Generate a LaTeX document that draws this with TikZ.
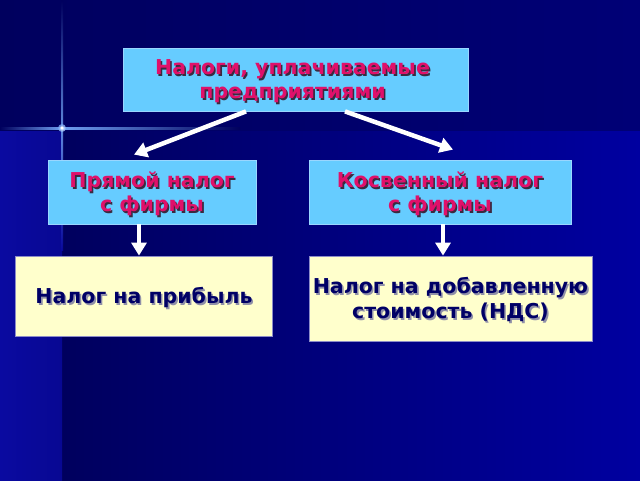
\documentclass[tikz,border=0pt]{standalone}
\usepackage{fontspec}
\setmainfont{DejaVu Sans}
\usetikzlibrary{arrows.meta,calc}
\definecolor{bgdark}{HTML}{00005E}
\definecolor{bgmid}{HTML}{000070}
\definecolor{bglight}{HTML}{0000A0}
\definecolor{bgstrip}{HTML}{0A0AA0}
\definecolor{boxblue}{HTML}{66CCFF}
\definecolor{boxblueline}{HTML}{9AD6FF}
\definecolor{boxyellow}{HTML}{FFFFCC}
\definecolor{boxyline}{HTML}{8C8CC8}
\definecolor{txtred}{HTML}{E0106A}
\definecolor{txtnavy}{HTML}{000066}
\definecolor{shred}{HTML}{3A2A40}
\definecolor{shnavy}{HTML}{9090A8}
\definecolor{flare}{HTML}{6F9FF0}
\newcommand{\shline}[3]{\leavevmode{\color{#2}\rlap{\hspace*{1.6pt}\raisebox{-1.6pt}{#1}}}{\color{#3}#1}}
\newcommand{\redline}[1]{\shline{#1}{shred}{txtred}}
\newcommand{\navyline}[1]{\shline{#1}{shnavy}{txtnavy}}
\tikzset{
  bluebox/.style={draw=boxblueline, line width=0.8pt, fill=boxblue, inner sep=0pt},
  yellowbox/.style={draw=boxyline, line width=0.8pt, fill=boxyellow, inner sep=0pt},
  redtxt/.style={font=\bfseries\fontsize{20.5}{24}\selectfont, align=center},
  navytxt/.style={font=\bfseries\fontsize{20.5}{25}\selectfont, align=center},
  warrow/.style={draw=white, line width=4.5pt, -{Triangle[width=15pt,length=13pt]}}
}
\begin{document}
\begin{tikzpicture}[x=1pt,y=-1pt]
% background
\useasboundingbox (0,0) rectangle (640,480);
\fill[bglight] (0,0) rectangle (640,480);
\shade[left color=bgdark, right color=bglight] (62,130) rectangle (640,480);
\shade[left color=bgstrip, right color=bgstrip!80!bgdark] (0,130) rectangle (62,480);
\shade[left color=bgdark, right color=bgdark!85!blue] (0,0) rectangle (640,130);
% star flare
\shade[top color=bgdark, bottom color=flare, opacity=0.85] (61.2,0) rectangle (63,128);
\shade[top color=flare, bottom color=bgstrip, opacity=0.85] (61.2,128) rectangle (63,250);
\shade[left color=bgdark, right color=flare] (0,127.2) rectangle (62,129);
\shade[left color=flare, right color=bgdark] (62,127.2) rectangle (240,129);
\shade[inner color=white, outer color=flare, opacity=0.8] (62,128) circle (4);
\fill[white] (62,128) circle (1.6);
% boxes
\node[bluebox, minimum width=345pt, minimum height=63pt] (top) at (295.5,79.5) {};
\node[bluebox, minimum width=208pt, minimum height=64pt] (pl) at (152,192) {};
\node[bluebox, minimum width=262pt, minimum height=64pt] (pr) at (440,192) {};
\node[yellowbox, minimum width=257pt, minimum height=80pt] (bl) at (143.5,296) {};
\node[yellowbox, minimum width=283pt, minimum height=85pt] (br) at (450.5,298.5) {};
% texts
\node[redtxt] (topT) at (292.5,82) {\redline{Налоги, уплачиваемые}\\\redline{предприятиями}};
\node[redtxt] (plT) at (152,195) {\redline{Прямой налог}\\\redline{с фирмы}};
\node[redtxt] (prT) at (440,195) {\redline{Косвенный налог}\\\redline{с фирмы}};
\node[navytxt] (blT) at (144,298.5) {\navyline{Налог на прибыль}};
\node[navytxt] (brT) at (450.5,300.5) {\navyline{Налог на добавленную}\\\navyline{стоимость (НДС)}};
% arrows
\draw[warrow] ([xshift=-49.5pt]top.south) -- ([xshift=-18pt,yshift=5pt]pl.north);
\draw[warrow] ([xshift=49.5pt]top.south) -- ([xshift=13pt,yshift=10pt]pr.north);
\draw[warrow] ([xshift=-13pt]pl.south) -- ([xshift=-13pt]pl.south |- bl.north);
\draw[warrow] ([xshift=3pt]pr.south) -- ([xshift=3pt]pr.south |- br.north);
\end{tikzpicture}
\end{document}
